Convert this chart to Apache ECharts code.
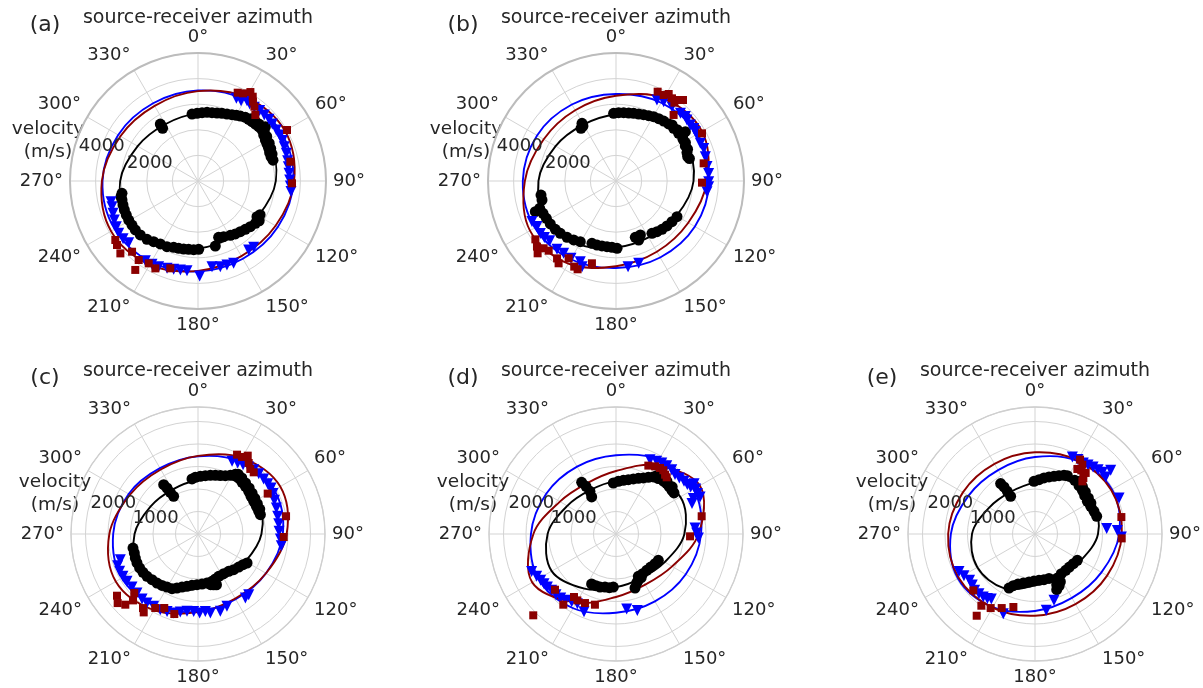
<!DOCTYPE html>
<html>
<head>
<meta charset="utf-8">
<script src="https://cdn.jsdelivr.net/npm/echarts@6/dist/echarts.min.js"></script>
<style>
html, body { margin: 0; padding: 0; background: #ffffff; }
#chart { width: 1203px; height: 688px; }
</style>
</head>
<body>
<div id="chart"></div>
<script>
// ---- data -------------------------------------------------------------
// azimuths (deg) at which the fitted velocity curves are sampled
const fitAzimuths = [0, 30, 60, 90, 120, 150, 180, 210, 240, 270, 300, 330];

// angle ticks, radial tick labels and the azimuth they are written along
const azimuthTicks = [0, 30, 60, 90, 120, 150, 180, 210, 240, 270, 300, 330];
const radialLabelsTop = [2000, 4000];
const radialLabelsBottom = [1000, 2000];
const radialLabelAzimuth = 290;
const panelNames = ['(a)', '(b)', '(c)', '(d)', '(e)'];

// fitted curves, velocity (m/s) at fitAzimuths
const blackFitA = [2640, 2920, 3170, 3040, 2720, 2560, 2640, 2920, 3170, 3040, 2720, 2560];
const blueFitA  = [3535, 3660, 3760, 3730, 3600, 3505, 3535, 3660, 3760, 3730, 3600, 3505];
const redFitA   = [3510, 3770, 3920, 3755, 3500, 3390, 3510, 3770, 3920, 3755, 3500, 3390];

const blackFitB = [2600, 2860, 3120, 3030, 2725, 2545, 2600, 2860, 3120, 3030, 2725, 2545];
const blueFitB  = [3400, 3530, 3660, 3640, 3560, 3450, 3400, 3530, 3660, 3640, 3560, 3450];
const redFitB   = [3330, 3730, 3880, 3560, 3260, 3190, 3330, 3730, 3880, 3560, 3260, 3190];

const blackFitC = [1200, 1420, 1530, 1410, 1220, 1140, 1200, 1420, 1530, 1410, 1220, 1140];
const blueFitC  = [1725, 1860, 1955, 1885, 1745, 1675, 1725, 1860, 1955, 1885, 1780, 1690];
const redFitC   = [1735, 1955, 2110, 1970, 1745, 1655, 1735, 1955, 2110, 1970, 1745, 1655];

const blackFitD = [1180, 1400, 1650, 1520, 1250, 1130, 1180, 1400, 1650, 1520, 1250, 1130];
const blueFitD  = [1750, 1905, 1990, 1890, 1790, 1730, 1750, 1905, 1990, 1890, 1790, 1730];
const redFitD   = [1400, 1760, 2150, 1835, 1440, 1300, 1400, 1760, 2150, 1835, 1440, 1300];

const blackFitE = [1140, 1390, 1480, 1400, 1175, 1080, 1140, 1390, 1480, 1400, 1175, 1080];
const blueFitE  = [1710, 1875, 1975, 1870, 1705, 1640, 1710, 1875, 1975, 1870, 1705, 1640];
const redFitE   = [1815, 1890, 1955, 1930, 1850, 1800, 1815, 1890, 1955, 1930, 1850, 1800];

// measurements: [azimuth (deg), velocity (m/s)]
const blackPtsA = [[354.9,2627],[359.2,2643],[3.4,2674],[7.5,2705],[11.6,2725],[15.6,2758],[19.5,2804],[23.4,2851],[27.1,2911],[30.3,2970],[33.1,3030],[36.6,3099],[39.4,3117],[42.3,3134],[45.2,3158],[48.2,3181],[51.4,3197],[51.1,3380],[55.0,3132],[58.7,3079],[61.8,3058],[65.2,3041],[68.4,3010],[71.6,3005],
  [40.5,3200],[44.0,3230],[47.0,3260],[53.0,3240],[57.0,3200],[62.0,3150],[66.0,3110],[70.0,3080],[74.5,3040],
  [121.6,2782],[121.2,2693],[126.4,2784],[131.1,2713],[135.6,2643],[140.1,2578],[144.8,2532],[149.2,2470],[155.2,2394],[159.9,2344],[165.1,2628],[123.0,2850],[118.5,2760],
  [200.1,2760],[196.0,2737],[191.9,2715],[187.8,2694],[183.6,2687],[179.4,2669],
  [205.3,2837],[210.9,2867],[216.2,2935],[221.2,3026],[226.9,3086],[232.0,3107],[236.3,3099],[240.6,3107],[244.6,3099],[248.5,3092],[252.3,3076],[256.0,3060],[258.5,3069],[260.8,3008],
  [326.5,2669],[326.1,2478],[326.3,2582]];
const bluePtsA = [[24.9,3560],[28.2,3559],[31.4,3676],[33.9,3622],[37.4,3622],[41.2,3654],[45.1,3655],[49.0,3673],[52.5,3659],[56.9,3651],[60.6,3661],[64.4,3651],[68.3,3629],[72.6,3616],[77.2,3591],[81.0,3573],[85.2,3567],[89.4,3581],[93.1,3612],[96.5,3656],
  [140.0,3383],[143.7,3344],[156.6,3505],[161.0,3471],[165.4,3458],[170.7,3391],[179.0,3711],
  [187.0,3529],[191.2,3544],[195.4,3579],[199.5,3620],[204.7,3682],[208.9,3718],[213.5,3730],
  [253.4,3505],[249.2,3552],[245.0,3606],[240.8,3655],[236.6,3712],[232.4,3695],[228.3,3625],[256.6,3493]];
const redPtsA = [[24.2,3782],[27.2,3849],[30.5,4033],[33.0,3926],[34.7,3771],[37.2,3643],[41.0,3415],[60.2,4007],[78.2,3685],[91.4,3673],
  [234.5,3967],[231.7,4032],[227.0,4146],[223.0,3777],[215.2,4251],[216.9,3859],[210.9,3749],[197.6,3578],[206.0,3797]];

const blackPtsB = [[358.0,2645],[2.2,2671],[6.4,2686],[10.6,2702],[14.6,2732],[18.7,2763],[22.6,2807],[26.6,2853],[30.3,2912],[34.4,2951],[38.5,2993],[42.7,3031],[47.6,3050],[52.7,3075],[58.1,3082],[63.2,3034],[68.2,2986],[71.2,2956],[54.6,3324],
  [45.0,3100],[50.0,3120],[56.0,3140],[61.0,3100],[66.0,3060],[73.0,3000],
  [120.3,2760],[126.0,2703],[131.4,2656],[136.4,2606],[141.0,2546],[145.5,2481],[155.7,2314],[161.1,2326],[159.0,2469],
  [179.1,2630],[183.5,2596],[187.8,2589],[192.2,2597],[196.5,2608],[201.1,2609],
  [210.5,2749],[215.7,2836],[221.0,2916],[226.8,2984],[231.5,3030],[236.8,3066],[241.8,3087],[246.1,3118],[250.3,3167],[249.2,3371],[255.6,2984],[259.4,2980],
  [329.5,2615],[326.4,2470],[329.0,2505]];
const bluePtsB = [[26.8,3545],[31.0,3615],[37.0,3635],[43.6,3650],[47.1,3695],[49.3,3655],[53.0,3635],[55.9,3665],[58.1,3650],[61.6,3640],[65.9,3610],[69.6,3655],[74.8,3615],[81.0,3600],[85.3,3630],[90.4,3620],[93.5,3625],[96.7,3580],
  [244.2,3646],[240.0,3564],[235.3,3594],[231.8,3561],[228.0,3485],[220.8,3526],[215.9,3487],[210.2,3495],[203.9,3445],[201.6,3600],
  [172.0,3379],[164.6,3336]];
const redPtsB = [[25.0,3850],[29.0,3841],[31.2,3973],[34.1,3900],[36.7,3815],[37.7,4000],[39.6,4106],[41.1,3423],[61.0,3841],[78.6,3493],[91.1,3359],
  [234.1,3888],[230.3,4013],[227.3,4165],[227.1,3860],[224.0,3785],[217.3,3799],[214.9,3919],[211.5,3541],[206.0,3721],[203.5,3761],[196.3,3350]];

const blackPtsC = [[353.8,1230],[357.3,1261],[2.3,1283],[7.2,1307],[11.9,1332],[16.5,1360],[20.9,1389],[25.1,1432],[28.9,1489],[32.0,1565],[36.0,1538],[40.4,1509],[44.8,1493],[49.9,1472],[54.6,1445],[59.6,1435],[64.6,1435],[69.5,1440],[72.8,1451],
  [34.0,1600],[38.0,1580],[43.0,1550],[48.0,1530],[53.0,1505],[58.0,1490],[63.0,1480],[68.0,1480],
  [325.2,1336],[326.0,1233],[326.4,1112],[327.1,997],
  [257.8,1478],[253.4,1477],[249.0,1492],[244.6,1501],[239.8,1501],[235.1,1490],[230.3,1473],[225.2,1441],[219.9,1420],[215.0,1394],[210.3,1365],[205.4,1346],
  [201.3,1288],[196.8,1231],[191.9,1189],[186.7,1149],[181.1,1126],[175.4,1115],[169.6,1108],[163.5,1097],[158.9,1072],[153.9,1047],[147.1,1050],[140.6,1074],[135.0,1121],[129.1,1164],[124.3,1211],[120.6,1266],
  [163.0,1180],[160.0,1200],[166.0,1160]];
const bluePtsC = [[25.1,1784],[29.2,1808],[33.0,1838],[37.1,1867],[40.9,1891],[45.2,1902],[50.0,1904],[54.2,1910],[57.8,1918],[61.7,1893],[66.2,1855],[71.6,1835],[77.5,1814],[82.7,1808],[88.1,1802],[93.5,1834],[98.0,1870],
  [140.1,1757],[143.5,1770],[158.2,1732],[163.9,1789],[171.1,1778],[174.6,1727],[178.8,1757],[183.2,1722],[188.1,1736],[192.8,1778],[197.1,1838],[201.8,1852],[206.5,1879],[211.5,1886],[216.5,1907],[220.7,1907],[226.0,1887],[231.2,1882],[236.3,1897],[240.6,1915],[244.5,1929],[248.5,1920],[251.7,1818]];
const redPtsC = [[26.2,1965],[29.7,1971],[32.4,2062],[35.5,1939],[38.8,1855],[42.1,1847],[59.9,1790],[78.6,1996],[92.0,1906],
  [232.7,2263],[229.3,2354],[225.8,2253],[227.2,1930],[224.4,2065],[216.6,2050],[214.7,2119],[210.0,1899],[204.5,1807],[196.5,1855]];

const blackPtsD = [[357.0,1135],[2.5,1172],[7.8,1204],[12.8,1238],[17.5,1282],[21.9,1333],[26.0,1385],[29.7,1450],[33.2,1515],[37.4,1549],[41.8,1580],[45.2,1588],[48.6,1580],[52.1,1578],[54.7,1579],
  [35.0,1590],[40.0,1620],[44.0,1630],[50.0,1630],
  [326.4,1379],[327.8,1252],[328.6,1111],[326.7,985],
  [121.9,1108],[127.3,1089],[133.6,1064],[139.8,1057],[146.1,1063],[152.2,1064],[157.1,1182],[160.6,1272],[150.0,1120],[155.0,1150],
  [206.0,1236],[201.2,1232],[196.8,1231],[191.7,1203],[187.1,1202],[182.9,1180]];
const bluePtsD = [[24.6,1817],[29.2,1851],[32.8,1877],[36.6,1891],[40.9,1891],[44.8,1860],[48.5,1879],[52.2,1912],[55.3,1928],[57.8,1961],[57.2,2064],[60.5,2034],[63.6,2018],[66.2,2041],[65.4,1890],[68.2,1819],[85.7,1761],[89.3,1793],[92.8,1833],
  [246.1,2050],[241.9,1999],[238.4,1966],[235.4,1944],[232.3,1928],[228.8,1901],[224.7,1897],[220.8,1881],[217.2,1851],[213.2,1798],[209.0,1771],[202.4,1867],
  [171.9,1684],[164.4,1762]];
const redPtsD = [[25.3,1681],[30.0,1736],[33.7,1764],[36.6,1764],[39.6,1711],[41.8,1690],[78.3,1944],[91.8,1646],
  [227.6,1836],[216.7,1959],[213.7,1683],[210.2,1707],[204.2,1682],[196.6,1639],[225.5,2578]];

const blackPtsE = [[358.9,1171],[4.2,1211],[9.1,1261],[13.8,1305],[18.2,1350],[22.4,1402],[26.3,1455],[29.0,1483],[36.5,1484],[42.3,1453],[47.3,1432],[52.3,1395],[58.0,1372],[63.6,1382],[69.0,1405],[74.0,1426],
  [40.0,1520],[45.0,1490],[50.0,1460],[56.0,1430],[61.0,1420],
  [325.7,1355],[326.6,1252],[327.0,1131],[327.1,997],
  [121.9,1108],[127.7,1078],[133.9,1059],[139.8,1057],[146.4,1058],[153.1,1097],[156.8,1225],[158.7,1328],[155.0,1270],[152.0,1200],
  [205.7,1332],[202.8,1246],[198.8,1174],[193.4,1120],[187.1,1075],[181.2,1045],[175.1,1034],[168.9,1035],[162.5,1034]];
const bluePtsE = [[25.9,1902],[30.0,1909],[34.2,1909],[37.5,1934],[40.9,1970],[44.4,2002],[47.5,2030],[51.1,2018],[49.9,2198],[66.8,2032],[85.7,1598],[87.5,1832],[92.0,1921],
  [243.8,1882],[239.6,1830],[234.7,1781],[230.9,1796],[227.0,1835],[223.2,1819],[219.4,1811],[216.5,1780],[213.9,1741],[201.7,1906],[171.6,1715],[164.0,1534]];
const redPtsE = [[31.2,1932],[34.3,1866],[33.1,1724],[36.0,1750],[39.7,1763],[40.8,1644],[42.0,1574],[78.9,1956],[92.9,1929],
  [227.6,1857],[216.8,1990],[210.9,1918],[204.2,1804],[196.5,1692],[215.5,2231]];

// ---- layout & style ----------------------------------------------------
const FONT = 'DejaVu Sans, Liberation Sans, sans-serif';
const TEXT = '#262626';
const GRID = '#d3d3d3';
const BLACK = '#000000', BLUE = '#0000ff', RED = '#8b0000';
const TICK_PAD = 7;   // px between outer circle and azimuth labels

const panels = [
  { cx: 198,  cy: 181, r: 128, rmax: 5000, ring: 1000, labels: radialLabelsTop,    labelDx: -150, spine: '#bcbcbc', spineW: 2,
    fits: [blackFitA, blueFitA, redFitA], pts: [blackPtsA, bluePtsA, redPtsA] },
  { cx: 616,  cy: 181, r: 128, rmax: 5000, ring: 1000, labels: radialLabelsTop,    labelDx: -150, spine: '#bcbcbc', spineW: 2,
    fits: [blackFitB, blueFitB, redFitB], pts: [blackPtsB, bluePtsB, redPtsB] },
  { cx: 198,  cy: 534, r: 127, rmax: 2822, ring: 500,  labels: radialLabelsBottom, labelDx: -143, spine: '#cfcfcf', spineW: 1.3,
    fits: [blackFitC, blueFitC, redFitC], pts: [blackPtsC, bluePtsC, redPtsC] },
  { cx: 616,  cy: 534, r: 127, rmax: 2822, ring: 500,  labels: radialLabelsBottom, labelDx: -143, spine: '#cfcfcf', spineW: 1.3,
    fits: [blackFitD, blueFitD, redFitD], pts: [blackPtsD, bluePtsD, redPtsD] },
  { cx: 1035, cy: 534, r: 127, rmax: 2822, ring: 500,  labels: radialLabelsBottom, labelDx: -143, spine: '#cfcfcf', spineW: 1.3,
    fits: [blackFitE, blueFitE, redFitE], pts: [blackPtsE, bluePtsE, redPtsE] }
];

const markerStyles = [
  { color: BLACK, symbol: 'circle',   size: 11, rotate: 0 },
  { color: BLUE,  symbol: 'triangle', size: 11, rotate: 180 },
  { color: RED,   symbol: 'rect',     size: 8,  rotate: 0 }
];
const lineWidth = 1.9;

// text anchored on a data point (no visible symbol)
function textSeries(polarIndex, data, fontSize) {
  return {
    type: 'scatter', coordinateSystem: 'polar', polarIndex: polarIndex, silent: true, clip: false, z: 4,
    symbol: 'circle', symbolSize: 0, itemStyle: { color: TEXT, opacity: 1 },
    label: {
      show: true, position: 'inside', fontSize: fontSize, fontFamily: FONT, color: TEXT,
      opacity: 1, textBorderWidth: 0, formatter: prm => prm.name
    },
    data: data
  };
}

const polar = [], angleAxis = [], radiusAxis = [], series = [], texts = [];

panels.forEach((p, i) => {
  // polar frame: spokes, rings, outer circle
  polar[i] = { center: [p.cx, p.cy], radius: p.r };
  angleAxis[i] = {
    polarIndex: i, type: 'value', min: 0, max: 360, interval: 30,
    startAngle: 90, clockwise: true, z: 1,
    axisLine: { show: true, lineStyle: { color: p.spine, width: p.spineW } },
    axisTick: { show: false },
    axisLabel: { show: false },
    splitLine: { show: true, lineStyle: { color: GRID, width: 1 } }
  };
  radiusAxis[i] = {
    polarIndex: i, type: 'value', min: 0, max: p.rmax, interval: p.ring, z: 0,
    axisLine: { show: false }, axisTick: { show: false }, axisLabel: { show: false },
    splitLine: { show: true, lineStyle: { color: GRID, width: 1 } }
  };

  // azimuth tick labels just outside the circle, aligned away from the centre
  const k = (p.r + TICK_PAD) / p.r;
  const padR = p.rmax * k;
  series.push(textSeries(i, azimuthTicks.map(az => {
    const s = Math.sin(az * Math.PI / 180) * k, c = Math.cos(az * Math.PI / 180) * k;
    return {
      name: az + '\u00b0', value: [padR, az],
      label: {
        align: Math.abs(s) < 0.3 ? 'center' : (s > 0 ? 'left' : 'right'),
        verticalAlign: Math.abs(c) < 0.3 ? 'middle' : (c > 0 ? 'bottom' : 'top')
      }
    };
  }), 18));

  // velocity tick labels, centred on their ring along one azimuth
  series.push(textSeries(i, p.labels.map(v => ({ name: String(v), value: [v, radialLabelAzimuth] })), 18));

  // fitted curve (closed smooth loop) then measurements, per colour
  for (let m = 0; m < 3; m++) {
    const ms = markerStyles[m];
    const fit = p.fits[m];
    const curveData = fitAzimuths.map((az, n) => [fit[n], az]);
    series.push({
      type: 'custom', coordinateSystem: 'polar', polarIndex: i, silent: true,
      data: curveData,
      renderItem: (params, api) => {
        if (params.dataIndex !== 0) return null;
        const points = curveData.map(d => api.coord(d));
        return {
          type: 'polygon',
          shape: { points: points, smooth: 0.35, smoothConstraint: false },
          style: { fill: 'none', stroke: ms.color, lineWidth: lineWidth }
        };
      }
    });
    series.push({
      type: 'scatter', coordinateSystem: 'polar', polarIndex: i, silent: true,
      symbol: ms.symbol, symbolSize: ms.size, symbolRotate: ms.rotate,
      itemStyle: { color: ms.color, opacity: 1 },
      data: p.pts[m].map(d => [d[1], d[0]])
    });
  }

  // panel texts
  const txt = (x, y, s, size) => ({
    type: 'text', x: x, y: y, silent: true,
    style: { text: s, fontSize: size, fontFamily: FONT, fill: TEXT, align: 'center', verticalAlign: 'middle' }
  });
  texts.push(txt(p.cx - 153, p.cy - 156, panelNames[i], 22));
  texts.push(txt(p.cx, p.cy - 162.5, 'source-receiver azimuth', 19));
  texts.push(txt(p.cx + p.labelDx, p.cy - 52, 'velocity', 18.5));
  texts.push(txt(p.cx + p.labelDx, p.cy - 29, '(m/s)', 18.5));
});

const chart = echarts.init(document.getElementById('chart'), null, { renderer: 'canvas' });
chart.setOption({
  backgroundColor: '#ffffff',
  animation: false,
  polar: polar,
  angleAxis: angleAxis,
  radiusAxis: radiusAxis,
  series: series,
  graphic: { elements: texts }
});
</script>
</body>
</html>
